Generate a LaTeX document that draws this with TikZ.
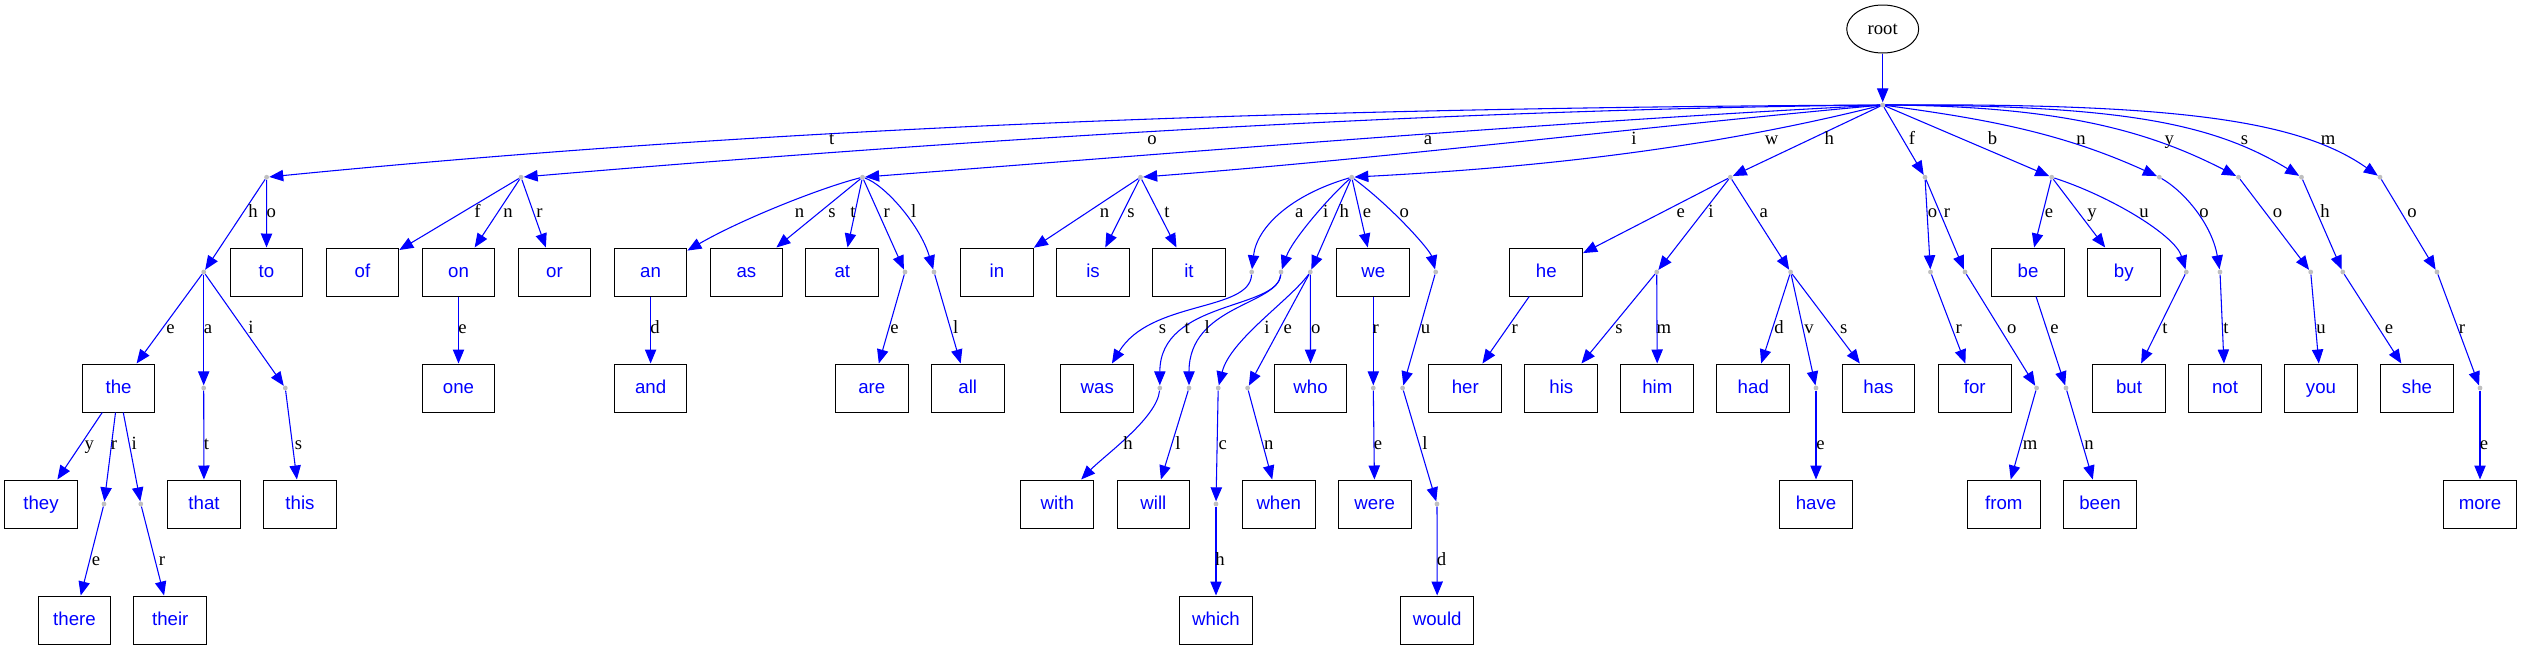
\documentclass[tikz,border=0pt]{standalone}
\usepackage{fontspec}
\setmainfont{Liberation Serif}
\newfontfamily\wordfont{Liberation Sans}
\usepackage{tikz}
\usetikzlibrary{shapes.geometric,arrows.meta}

\begin{document}
\begin{tikzpicture}[
  x=0.75pt, y=-0.75pt,
  font=\fontsize{14pt}{16pt}\selectfont,
  word/.style={rectangle, draw, line width=0.75pt,
               minimum width=54.5pt, minimum height=36pt, inner sep=0pt,
               text height=10.5pt, text depth=2.5pt, text=blue,
               font=\wordfont\fontsize{14pt}{16pt}\selectfont},
  pnt/.style={circle, fill=black!25, inner sep=0pt, minimum size=3.6pt},
  lbl/.style={inner sep=0pt, text height=1ex, text depth=0pt, text=black},
  arr/.style={-{Triangle[length=10.5pt,width=8.5pt]}, draw=blue, line width=0.8pt}
]
\useasboundingbox (0,0) rectangle (2521,650);

% ---- root ----
\node[ellipse, draw, line width=0.75pt, minimum width=54pt, minimum height=36pt,
      inner sep=0pt] (root) at (1882.7,29) {root};
\node[pnt] (hub) at (1882.7,105) {};

% ---- first letters ----
\node[pnt] (t) at (266.6,177.2) {};
\node[pnt] (o) at (521,177.2) {};
\node[pnt] (a) at (862.5,177.2) {};
\node[pnt] (i) at (1140.5,177.2) {};
\node[pnt] (w) at (1351.7,177.2) {};
\node[pnt] (h) at (1730.3,177.2) {};
\node[pnt] (f) at (1925,177.2) {};
\node[pnt] (b) at (2051.7,177.2) {};
\node[pnt] (n) at (2159.3,177.2) {};
\node[pnt] (y) at (2238.5,177.2) {};
\node[pnt] (s) at (2301.5,177.2) {};
\node[pnt] (m) at (2380,177.2) {};

% ---- two letters ----
\node[pnt]  (th) at (203.7,272) {};
\node[word] (to) at (266.5,272) {to};
\node[word] (of) at (362.5,272) {of};
\node[word] (on) at (458.5,272) {on};
\node[word] (or) at (554.5,272) {or};
\node[word] (an) at (650.6,272) {an};
\node[word] (as) at (746.4,272) {as};
\node[word] (at) at (842.3,272) {at};
\node[pnt]  (ar) at (905,272) {};
\node[pnt]  (al) at (934,272) {};
\node[word] (in) at (997,272) {in};
\node[word] (is) at (1093,272) {is};
\node[word] (it) at (1189,272) {it};
\node[pnt]  (wa) at (1251.7,272) {};
\node[pnt]  (wi) at (1281,272) {};
\node[pnt]  (wh) at (1310.3,272) {};
\node[word] (we) at (1373.3,272) {we};
\node[pnt]  (wo) at (1435.7,272) {};
\node[word] (he) at (1546.3,272) {he};
\node[pnt]  (hi) at (1656.7,272) {};
\node[pnt]  (ha) at (1790.6,272) {};
\node[pnt]  (fo) at (1930.5,272) {};
\node[pnt]  (fr) at (1965,272) {};
\node[word] (be) at (2028,272) {be};
\node[word] (by) at (2123.8,272) {by};
\node[pnt]  (bu) at (2186.3,272) {};
\node[pnt]  (no) at (2220,272) {};
\node[pnt]  (yo) at (2310.7,272) {};
\node[pnt]  (sh) at (2342.8,272) {};
\node[pnt]  (mo) at (2437,272) {};

% ---- three letters ----
\node[word] (the) at (118.6,388) {the};
\node[pnt]  (tha) at (203.7,388) {};
\node[pnt]  (thi) at (285.3,388) {};
\node[word] (one) at (458.5,388) {one};
\node[word] (and) at (650.6,388) {and};
\node[word] (are) at (871.8,388) {are};
\node[word] (all) at (967.8,388) {all};
\node[word] (was) at (1097.3,388) {was};
\node[pnt]  (wit) at (1159.8,388) {};
\node[pnt]  (wil) at (1189,388) {};
\node[pnt]  (whi) at (1218.2,388) {};
\node[pnt]  (whe) at (1247.6,388) {};
\node[word] (who) at (1310.6,388) {who};
\node[pnt]  (wer) at (1373.3,388) {};
\node[pnt]  (wou) at (1402.6,388) {};
\node[word] (her) at (1465.3,388) {her};
\node[word] (his) at (1561.3,388) {his};
\node[word] (him) at (1657.3,388) {him};
\node[word] (had) at (1753.3,388) {had};
\node[pnt]  (hav) at (1816,388) {};
\node[word] (has) at (1878.4,388) {has};
\node[word] (for) at (1974.7,388) {for};
\node[pnt]  (fro) at (2036.6,388) {};
\node[pnt]  (bee) at (2066,388) {};
\node[word] (but) at (2129,388) {but};
\node[word] (not) at (2225,388) {not};
\node[word] (you) at (2321,388) {you};
\node[word] (she) at (2417,388) {she};
\node[pnt]  (mor) at (2480,388) {};

% ---- four letters ----
\node[word] (they) at (41,504) {they};
\node[pnt]  (ther) at (104,504) {};
\node[pnt]  (thei) at (140.8,504) {};
\node[word] (that) at (204,504) {that};
\node[word] (this) at (300,504) {this};
\node[word] (with) at (1057.3,504) {with};
\node[word] (will) at (1153.4,504) {will};
\node[pnt]  (whic) at (1216,504) {};
\node[word] (when) at (1278.8,504) {when};
\node[word] (were) at (1374.7,504) {were};
\node[pnt]  (woul) at (1437,504) {};
\node[word] (have) at (1816,504) {have};
\node[word] (from) at (2003.8,504) {from};
\node[word] (been) at (2100,504) {been};
\node[word] (more) at (2480,504) {more};

% ---- five letters ----
\node[word] (there) at (74.5,620) {there};
\node[word] (their) at (170.3,620) {their};
\node[word] (which) at (1216,620) {which};
\node[word] (would) at (1437.2,620) {would};

% ---- edges from root ----
\draw[arr] (root) -- (hub);
\draw[arr] (hub) .. controls (1283,108) and (766.7,127.7) .. (t) node[lbl] (lt) at (831.7,141) {t};
\draw[arr] (hub) .. controls (1400,110) and (900,145) .. (o) node[lbl] (lo) at (1152,141) {o};
\draw[arr] (hub) .. controls (1550,122) and (1150,155) .. (a) node[lbl] (la) at (1428,141) {a};
\draw[arr] (hub) .. controls (1640,127) and (1390,158) .. (i) node[lbl] (li) at (1634,141) {i};
\draw[arr] (hub) .. controls (1703,150) and (1531.7,167.7) .. (w) node[lbl] (lw) at (1771.7,141) {w};
\draw[arr] (hub) -- (h) node[lbl] (lh) at (1829.3,141) {h};
\draw[arr] (hub) -- (f) node[lbl] (lf) at (1912,141) {f};
\draw[arr] (hub) -- (b) node[lbl] (lb) at (1992.5,141) {b};
\draw[arr] (hub) .. controls (1983,118.7) and (2059.3,131.7) .. (n) node[lbl] (ln) at (2081,141) {n};
\draw[arr] (hub) .. controls (2060,106) and (2148.3,130.8) .. (y) node[lbl] (ly) at (2169.3,141) {y};
\draw[arr] (hub) .. controls (2120,105) and (2211.7,122.7) .. (s) node[lbl] (ls) at (2244.4,141) {s};
\draw[arr] (hub) .. controls (2180,103) and (2300,121) .. (m) node[lbl] (lm) at (2328,141) {m};

% ---- t ----
\draw[arr] (t) -- (th) node[lbl] (lth) at (253,214) {h};
\draw[arr] (t) -- (to) node[lbl] (lto) at (271.4,214) {o};
\draw[arr] (th) -- (the) node[lbl] (lthe) at (170.6,330) {e};
\draw[arr] (th) -- (tha) node[lbl] (ltha) at (208,330) {a};
\draw[arr] (th) -- (thi) node[lbl] (lthi) at (251,330) {i};
\draw[arr] (the) -- (they) node[lbl] (lthey) at (89.4,446) {y};
\draw[arr] (the) -- (ther) node[lbl] (lther) at (113.9,446) {r};
\draw[arr] (the) -- (thei) node[lbl] (lthei) at (134.3,446) {i};
\draw[arr] (tha) -- (that) node[lbl] (lthat) at (206.5,446) {t};
\draw[arr] (thi) -- (this) node[lbl] (lthis) at (298.4,446) {s};
\draw[arr] (ther) -- (there) node[lbl] (lthere) at (96,562) {e};
\draw[arr] (thei) -- (their) node[lbl] (ltheir) at (162,562) {r};

% ---- o ----
\draw[arr] (o) -- (of) node[lbl] (lof) at (477.5,214) {f};
\draw[arr] (o) -- (on) node[lbl] (lon) at (508,214) {n};
\draw[arr] (o) -- (or) node[lbl] (lor) at (539.6,214) {r};
\draw[arr] (on) -- (one) node[lbl] (lone) at (462.4,330) {e};

% ---- a ----
\draw[arr] (a) .. controls (820,188) and (740,220) .. (an) node[lbl] (lan) at (799.5,214) {n};
\draw[arr] (a) -- (as) node[lbl] (las) at (832,214) {s};
\draw[arr] (a) -- (at) node[lbl] (lat) at (853,214) {t};
\draw[arr] (a) -- (ar) node[lbl] (lar) at (886.6,214) {r};
\draw[arr] (a) .. controls (885,185) and (920,225) .. (al) node[lbl] (lal) at (913.8,214) {l};
\draw[arr] (an) -- (and) node[lbl] (land) at (655,330) {d};
\draw[arr] (ar) -- (are) node[lbl] (lare) at (894.6,330) {e};
\draw[arr] (al) -- (all) node[lbl] (lall) at (955.8,330) {l};

% ---- i ----
\draw[arr] (i) -- (in) node[lbl] (lin) at (1104.5,214) {n};
\draw[arr] (i) -- (is) node[lbl] (lis) at (1131,214) {s};
\draw[arr] (i) -- (it) node[lbl] (lit) at (1167,214) {t};

% ---- w ----
\draw[arr] (w) .. controls (1291.7,194.7) and (1256.7,226.7) .. (wa) node[lbl] (lwa) at (1299.3,214) {a};
\draw[arr] (w) .. controls (1330,196) and (1292,240) .. (wi) node[lbl] (lwi) at (1325.7,214) {i};
\draw[arr] (w) -- (wh) node[lbl] (lwh) at (1344.3,214) {h};
\draw[arr] (w) -- (we) node[lbl] (lwe) at (1367,214) {e};
\draw[arr] (w) .. controls (1391.7,206.7) and (1430,250) .. (wo) node[lbl] (lwo) at (1404.3,214) {o};
\draw[arr] (wa) .. controls (1250,312) and (1150,300) .. (was) node[lbl] (lwas) at (1162.5,330) {s};
\draw[arr] (wi) .. controls (1278,310) and (1160,300) .. (wit) node[lbl] (lwit) at (1187.3,330) {t};
\draw[arr] (wi) .. controls (1278,305) and (1189,305) .. (wil) node[lbl] (lwil) at (1207.3,330) {l};
\draw[arr] (wh) .. controls (1290,300) and (1230,340) .. (whi) node[lbl] (lwhi) at (1267,330) {i};
\draw[arr] (wh) -- (whe) node[lbl] (lwhe) at (1287.7,330) {e};
\draw[arr] (wh) -- (who) node[lbl] (lwho) at (1315.7,330) {o};
\draw[arr] (we) -- (wer) node[lbl] (lwer) at (1375.7,330) {r};
\draw[arr] (wo) -- (wou) node[lbl] (lwou) at (1425.5,330) {u};
\draw[arr] (wit) .. controls (1157,418) and (1105,455) .. (with) node[lbl] (lwith) at (1128,446) {h};
\draw[arr] (wil) -- (will) node[lbl] (lwill) at (1178,446) {l};
\draw[arr] (whi) -- (whic) node[lbl] (lwhic) at (1222.8,446) {c};
\draw[arr] (whe) -- (when) node[lbl] (lwhen) at (1268.8,446) {n};
\draw[arr] (wer) -- (were) node[lbl] (lwere) at (1378,446) {e};
\draw[arr] (wou) -- (woul) node[lbl] (lwoul) at (1425,446) {l};
\draw[arr] (whic) -- (which) node[lbl] (lwhich) at (1220,562) {h};
\draw[arr] (woul) -- (would) node[lbl] (lwould) at (1441.6,562) {d};

% ---- h ----
\draw[arr] (h) -- (he) node[lbl] (lhe) at (1680.8,214) {e};
\draw[arr] (h) -- (hi) node[lbl] (lhi) at (1711,214) {i};
\draw[arr] (h) -- (ha) node[lbl] (lha) at (1763.8,214) {a};
\draw[arr] (he) -- (her) node[lbl] (lher) at (1514.7,330) {r};
\draw[arr] (hi) -- (his) node[lbl] (lhis) at (1619,330) {s};
\draw[arr] (hi) -- (him) node[lbl] (lhim) at (1663.8,330) {m};
\draw[arr] (ha) -- (had) node[lbl] (lhad) at (1779,330) {d};
\draw[arr] (ha) -- (hav) node[lbl] (lhav) at (1809,330) {v};
\draw[arr] (ha) -- (has) node[lbl] (lhas) at (1843.8,330) {s};
\draw[arr] (hav) -- (have) node[lbl] (lhave) at (1820.5,446) {e};

% ---- f, b ----
\draw[arr] (f) -- (fo) node[lbl] (lfo) at (1932.5,214) {o};
\draw[arr] (f) -- (fr) node[lbl] (lfr) at (1947,214) {r};
\draw[arr] (fo) -- (for) node[lbl] (lfor) at (1958.6,330) {r};
\draw[arr] (fr) -- (fro) node[lbl] (lfro) at (2011.7,330) {o};
\draw[arr] (fro) -- (from) node[lbl] (lfrom) at (2030,446) {m};
\draw[arr] (b) -- (be) node[lbl] (lbe) at (2049,214) {e};
\draw[arr] (b) -- (by) node[lbl] (lby) at (2092,214) {y};
\draw[arr] (b) .. controls (2110,196) and (2175,235) .. (bu) node[lbl] (lbu) at (2144,214) {u};
\draw[arr] (be) -- (bee) node[lbl] (lbee) at (2054.5,330) {e};
\draw[arr] (bu) -- (but) node[lbl] (lbut) at (2165,330) {t};
\draw[arr] (bee) -- (been) node[lbl] (lbeen) at (2089,446) {n};

% ---- n, y, s, m ----
\draw[arr] (n) .. controls (2185,192) and (2212,225) .. (no) node[lbl] (lno) at (2204,214) {o};
\draw[arr] (no) -- (not) node[lbl] (lnot) at (2226,330) {t};
\draw[arr] (y) -- (yo) node[lbl] (lyo) at (2277.4,214) {o};
\draw[arr] (yo) -- (you) node[lbl] (lyou) at (2321,330) {u};
\draw[arr] (s) -- (sh) node[lbl] (lsh) at (2325,214) {h};
\draw[arr] (sh) -- (she) node[lbl] (lshe) at (2389,330) {e};
\draw[arr] (m) -- (mo) node[lbl] (lmo) at (2412,214) {o};
\draw[arr] (mo) -- (mor) node[lbl] (lmor) at (2462,330) {r};
\draw[arr] (mor) -- (more) node[lbl] (lmore) at (2484,446) {e};

\end{tikzpicture}
\end{document}
